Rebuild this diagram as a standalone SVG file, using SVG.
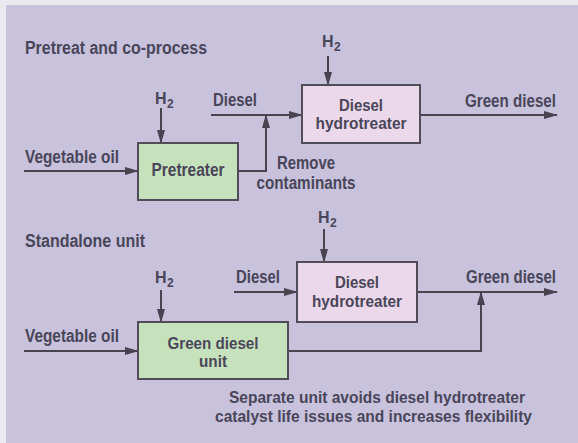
<svg xmlns="http://www.w3.org/2000/svg" width="578" height="443" viewBox="0 0 578 443">
<defs>
<marker id="ah" markerWidth="14" markerHeight="10" refX="13" refY="5" orient="auto" markerUnits="userSpaceOnUse">
<path d="M0,1 L14,5 L0,9 Z" fill="#47434f"/>
</marker>
<style>
text{font-family:"Liberation Sans",Arial,sans-serif;font-weight:bold;font-size:18px;fill:#4a4659}
.c{text-anchor:middle}
.ln{fill:none;stroke:#47434f;stroke-width:2}
.box{stroke:#514d58;stroke-width:2}
.g{fill:#c6e2bd}
.p{fill:#ebd8ea}
.h{font-size:16px}
.sub{font-size:12px}
.note{font-size:16px}
.two{font-size:16px}
</style>
</defs>
<rect width="578" height="443" fill="#ebe9f0"/>
<rect x="6" y="5" width="572" height="438" fill="#c8c2dd"/>
<text x="25" y="54" textLength="182" lengthAdjust="spacingAndGlyphs">Pretreat and co-process</text>
<text x="25" y="247" textLength="120" lengthAdjust="spacingAndGlyphs">Standalone unit</text>
<g id="connectors">
<line class="ln" x1="24" y1="171" x2="138" y2="171" marker-end="url(#ah)"/>
<line class="ln" x1="161" y1="108" x2="161" y2="143" marker-end="url(#ah)"/>
<polyline class="ln" points="238,171 266,171 266,115" marker-end="url(#ah)"/>
<line class="ln" x1="211" y1="115" x2="302" y2="115" marker-end="url(#ah)"/>
<line class="ln" x1="328" y1="56" x2="328" y2="85" marker-end="url(#ah)"/>
<line class="ln" x1="420" y1="115" x2="557" y2="115" marker-end="url(#ah)"/>
<line class="ln" x1="24" y1="351" x2="138" y2="351" marker-end="url(#ah)"/>
<line class="ln" x1="161" y1="290" x2="161" y2="322" marker-end="url(#ah)"/>
<line class="ln" x1="234" y1="292" x2="297" y2="292" marker-end="url(#ah)"/>
<line class="ln" x1="324" y1="229" x2="324" y2="262" marker-end="url(#ah)"/>
<line class="ln" x1="417" y1="292" x2="557" y2="292" marker-end="url(#ah)"/>
<polyline class="ln" points="288,351 481,351 481,292" marker-end="url(#ah)"/>
</g>
<g id="pretreater">
<rect class="box g" x="138" y="143" width="100" height="57"/>
<text class="c" x="188" y="176" textLength="73" lengthAdjust="spacingAndGlyphs">Pretreater</text>
</g>
<g id="dht1">
<rect class="box p" x="302" y="85" width="118" height="58"/>
<text class="c two" x="361" y="111" textLength="44" lengthAdjust="spacingAndGlyphs">Diesel</text>
<text class="c two" x="361" y="129" textLength="91" lengthAdjust="spacingAndGlyphs">hydrotreater</text>
</g>
<g id="gdu">
<rect class="box g" x="138" y="322" width="150" height="57"/>
<text class="c two" x="213" y="349" textLength="91" lengthAdjust="spacingAndGlyphs">Green diesel</text>
<text class="c two" x="213" y="367" textLength="28" lengthAdjust="spacingAndGlyphs">unit</text>
</g>
<g id="dht2">
<rect class="box p" x="297" y="262" width="120" height="60"/>
<text class="c two" x="357" y="288" textLength="44" lengthAdjust="spacingAndGlyphs">Diesel</text>
<text class="c two" x="357" y="307" textLength="90" lengthAdjust="spacingAndGlyphs">hydrotreater</text>
</g>
<g id="labels">
<text class="h" x="155" y="104">H</text><text class="sub" x="167" y="108">2</text>
<text x="213" y="106" textLength="44" lengthAdjust="spacingAndGlyphs">Diesel</text>
<text x="25" y="163" textLength="94" lengthAdjust="spacingAndGlyphs">Vegetable oil</text>
<text class="c" x="306" y="169" textLength="58" lengthAdjust="spacingAndGlyphs">Remove</text>
<text class="c" x="306" y="189" textLength="99" lengthAdjust="spacingAndGlyphs">contaminants</text>
<text class="h" x="322" y="47">H</text><text class="sub" x="334" y="51">2</text>
<text x="465" y="107" textLength="91" lengthAdjust="spacingAndGlyphs">Green diesel</text>
<text class="h" x="155" y="283">H</text><text class="sub" x="167" y="287">2</text>
<text x="236" y="283" textLength="44" lengthAdjust="spacingAndGlyphs">Diesel</text>
<text class="h" x="318" y="223">H</text><text class="sub" x="330" y="227">2</text>
<text x="466" y="283" textLength="90" lengthAdjust="spacingAndGlyphs">Green diesel</text>
<text x="25" y="342" textLength="94" lengthAdjust="spacingAndGlyphs">Vegetable oil</text>
<text class="note" x="229" y="403" textLength="296" lengthAdjust="spacingAndGlyphs">Separate unit avoids diesel hydrotreater</text>
<text class="note" x="215" y="422" textLength="317" lengthAdjust="spacingAndGlyphs">catalyst life issues and increases flexibility</text>
</g>
</svg>
